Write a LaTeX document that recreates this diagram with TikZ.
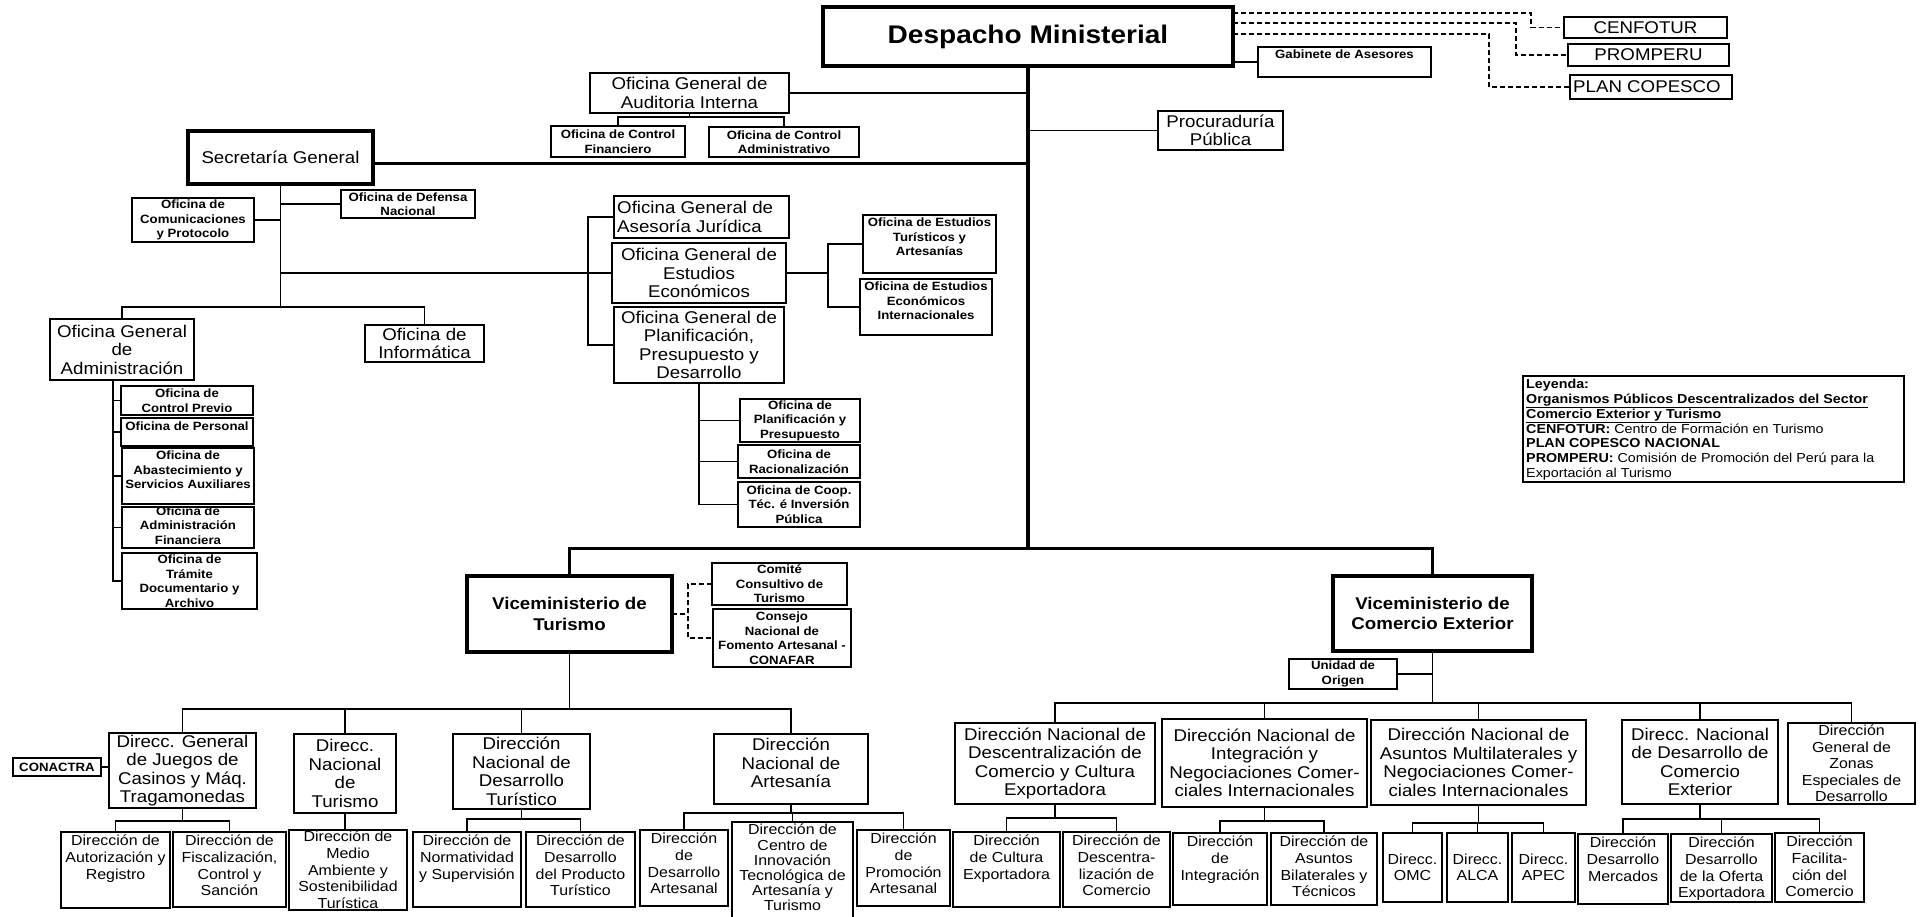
\documentclass[tikz,border=0pt]{standalone}
\usepackage{fontspec}
\setmainfont{Liberation Sans}[FakeStretch=1.1]

% box with centred text: [text options]{name}{box style}{x1}{y1}{x2}{y2}{text}
\newcommand{\ob}[8][]{%
  \node[#3, minimum width={#6-#4}, minimum height={#7-#5}] (#2) at ({(#4+#6)/2},{(#5+#7)/2}) {};
  \node[txt,#1] (#2-t) at (#2.center) {#8};}
% box with text hanging from the top edge
\newcommand{\obt}[8][]{%
  \node[#3, minimum width={#6-#4}, minimum height={#7-#5}] (#2) at ({(#4+#6)/2},{(#5+#7)/2}) {};
  \node[txt,anchor=north,#1] (#2-t) at ([yshift=-3pt]#2.north) {#8};}
% box with left-aligned text
\newcommand{\obl}[8][]{%
  \node[#3, minimum width={#6-#4}, minimum height={#7-#5}] (#2) at ({(#4+#6)/2},{(#5+#7)/2}) {};
  \node[txt,align=left,anchor=west,#1] (#2-t) at ([xshift=3pt]#2.west) {#8};}

\begin{document}
\begin{tikzpicture}[x=1pt,y=-1pt,line join=miter,
  box/.style={draw,line width=1.5pt,inner sep=0pt,outer sep=0pt},
  mbox/.style={draw,line width=2.2pt,inner sep=0pt,outer sep=0pt},
  bbox/.style={draw,line width=3.2pt,inner sep=0pt,outer sep=0pt},
  txt/.style={inner sep=0pt,align=center,fM},
  fT/.style={font=\fontsize{25.5}{28}\selectfont\bfseries},
  fV/.style={font=\fontsize{17}{20.5}\selectfont\bfseries},
  fM/.style={font=\fontsize{17}{18.5}\selectfont},
  fB/.style={font=\fontsize{14.5}{16.6}\selectfont},
  fS/.style={font=\fontsize{12}{14.5}\selectfont\bfseries},
  ln/.style={line width=1.6pt},
  thk/.style={line width=3pt},
  trunk/.style={line width=4pt},
  dsh/.style={line width=1.5pt,dash pattern=on 5pt off 3pt}]

\useasboundingbox[fill=white] (0,0) rectangle (1922,916);

% ---------- top level ----------
\ob[fT]{desp}{bbox}{823}{7}{1233}{66}{Despacho Ministerial}
\ob{cen}{box}{1564}{17}{1727}{38}{CENFOTUR}
\ob{pro}{box}{1568}{44}{1729}{66}{PROMPERU}
\obl{plan}{box}{1570}{75}{1732}{99}{PLAN COPESCO}
\obt[fS]{gab}{box}{1258}{47}{1431}{77}{Gabinete de Asesores}
\ob{aud}{box}{590}{73}{789}{113}{Oficina General de\\Auditoria Interna}
\ob[fS]{cf}{box}{551}{126}{685}{157}{Oficina de Control\\Financiero}
\ob[fS]{ca}{box}{709}{127}{859}{157}{Oficina de Control\\Administrativo}
\ob{proc}{box}{1158}{111}{1283}{150}{Procuraduría\\Pública}

% ---------- Secretaría General ----------
\ob{sg}{bbox}{188}{131}{373}{184}{Secretaría General}
\ob[fS]{com}{box}{132}{198}{254}{242}{Oficina de\\Comunicaciones\\y Protocolo}
\ob[fS]{def}{box}{341}{190}{475}{218}{Oficina de Defensa\\Nacional}
\obl{aj}{box}{614}{196}{789}{238}{Oficina General de\\Asesoría Jurídica}
\ob{eco}{mbox}{612}{243}{786}{303}{Oficina General de\\Estudios\\Económicos}
\obt[fS]{tur}{box}{863}{215}{996}{273}{Oficina de Estudios\\Turísticos y\\Artesanías}
\obt[fS]{eei}{box}{860}{279}{992}{335}{Oficina de Estudios\\Económicos\\Internacionales}
\ob{ofa}{box}{50}{319}{194}{380}{Oficina General\\de\\Administración}
\ob{inf}{box}{365}{325}{484}{362}{Oficina de\\Informática}
\ob{ppd}{box}{614}{307}{784}{383}{Oficina General de\\Planificación,\\Presupuesto y\\Desarrollo}
\ob[fS]{cp}{box}{121}{386}{253}{415}{Oficina de\\Control Previo}
\obt[fS,yshift=-1pt]{per}{box}{121}{418}{253}{446}{Oficina de Personal}
\obt[fS]{aba}{box}{122}{448}{254}{504}{Oficina de\\Abastecimiento y\\Servicios Auxiliares}
\ob[fS,yshift=2pt]{adf}{box}{122}{507}{254}{548}{Oficina de\\Administración\\Financiera}
\ob[fS]{tra}{box}{122}{553}{257}{609}{Oficina de\\Trámite\\Documentario y\\Archivo}
\ob[fS]{pyp}{box}{740}{399}{860}{442}{Oficina de\\Planificación y\\Presupuesto}
\ob[fS]{rac}{box}{738}{445}{860}{478}{Oficina de\\Racionalización}
\ob[fS]{coop}{box}{738}{482}{860}{527}{Oficina de Coop.\\Téc. é Inversión\\Pública}

% ---------- viceministerios ----------
\ob[fV]{vmt}{bbox}{467}{576}{672}{652}{Viceministerio de\\Turismo}
\ob[fS]{cct}{box}{712}{563}{847}{605}{Comité\\Consultivo de\\Turismo}
\ob[fS]{conaf}{box}{713}{609}{851}{667}{Consejo\\Nacional de\\Fomento Artesanal -\\CONAFAR}
\ob[fV]{vmc}{bbox}{1333}{576}{1532}{651}{Viceministerio de\\Comercio Exterior}
\ob[fS]{uo}{box}{1289}{659}{1397}{689}{Unidad de\\Origen}

% ---------- legend ----------
\node[box,minimum width=381,minimum height=106] (leg) at (1713.5,429) {};
\node[anchor=north west,inner sep=0pt,align=left,font=\fontsize{13}{14.8}\selectfont]
  (leg-t) at ([xshift=3pt,yshift=-3pt]leg.north west)
  {\textbf{Leyenda:}\\
   \textbf{\underline{Organismos Públicos Descentralizados del Sector}}\\
   \textbf{\underline{Comercio Exterior y Turismo}}\\
   \textbf{CENFOTUR:} Centro de Formación en Turismo\\
   \textbf{PLAN COPESCO NACIONAL}\\
   \textbf{PROMPERU:} Comisión de Promoción del Perú para la\\
   Exportación al Turismo};

% ---------- Turismo branch ----------
\ob[fS]{cona}{box}{13}{758}{101}{776}{CONACTRA}
\ob{jue}{box}{109}{733}{256}{808}{Direcc. General\\de Juegos de\\Casinos y Máq.\\Tragamonedas}
\ob{dnt}{box}{294}{734}{396}{813}{Direcc.\\Nacional\\de\\Turismo}
\ob{ddt}{box}{453}{734}{590}{809}{Dirección\\Nacional de\\Desarrollo\\Turístico}
\obt[yshift=-1pt]{dna}{box}{714}{734}{868}{804}{Dirección\\Nacional de\\Artesanía}
\obt[fB]{ar}{box}{61}{832}{170}{908}{Dirección de\\Autorización y\\Registro}
\obt[fB]{fis}{box}{173}{832}{286}{907}{Dirección de\\Fiscalización,\\Control y\\Sanción}
\obt[fB,yshift=2pt]{ma}{box}{289}{830}{407}{910}{Dirección de\\Medio\\Ambiente y\\Sostenibilidad\\Turística}
\obt[fB]{nor}{box}{413}{832}{521}{907}{Dirección de\\Normatividad\\y Supervisión}
\obt[fB]{dpt}{box}{526}{832}{635}{907}{Dirección de\\Desarrollo\\del Producto\\Turístico}
\obt[fB]{dda}{box}{640}{830}{728}{906}{Dirección\\de\\Desarrollo\\Artesanal}
\obt[font=\fontsize{14.5}{15.2}\selectfont,yshift=1pt]{cit}{box}{732}{822}{853}{918}{Dirección de\\Centro de\\Innovación\\Tecnológica de\\Artesanía y\\Turismo}
\obt[fB]{dpa}{box}{857}{830}{950}{906}{Dirección\\de\\Promoción\\Artesanal}

% ---------- Comercio Exterior branch ----------
\ob{des}{box}{955}{723}{1155}{804}{Dirección Nacional de\\Descentralización de\\Comercio y Cultura\\Exportadora}
\ob{int}{box}{1162}{719}{1367}{807}{Dirección Nacional de\\Integración y\\Negociaciones Comer-\\ciales Internacionales}
\ob{mul}{box}{1371}{720}{1586}{805}{Dirección Nacional de\\Asuntos Multilaterales y\\Negociaciones Comer-\\ciales Internacionales}
\ob{dce}{box}{1622}{720}{1778}{804}{Direcc. Nacional\\de Desarrollo de\\Comercio\\Exterior}
\ob[fB]{zon}{box}{1788}{723}{1915}{804}{Dirección\\General de\\Zonas\\Especiales de\\Desarrollo}
\obt[fB]{cex}{box}{953}{832}{1060}{907}{Dirección\\de Cultura\\Exportadora}
\obt[fB]{dco}{box}{1063}{832}{1170}{907}{Dirección de\\Descentra-\\lización de\\Comercio}
\obt[fB]{dint}{box}{1173}{833}{1267}{905}{Dirección\\de\\Integración}
\obt[fB]{abt}{box}{1271}{833}{1377}{905}{Dirección de\\Asuntos\\Bilaterales y\\Técnicos}
\ob[fB]{omc}{box}{1383}{833}{1442}{902}{Direcc.\\OMC}
\ob[fB]{alca}{box}{1447}{833}{1508}{902}{Direcc.\\ALCA}
\ob[fB]{apec}{box}{1512}{833}{1575}{902}{Direcc.\\APEC}
\obt[fB]{mer}{box}{1578}{834}{1668}{904}{Dirección\\Desarrollo\\Mercados}
\obt[fB]{ofe}{box}{1671}{834}{1772}{902}{Dirección\\Desarrollo\\de la Oferta\\Exportadora}
\obt[fB]{fac}{box}{1775}{833}{1864}{902}{Dirección\\Facilita-\\ción del\\Comercio}

% ---------- connectors: top level ----------
\path (desp.south) ++(0,482) coordinate (vbar);
\draw[trunk] (desp.south) -- (vbar);
\draw[thk] (vmt.north) |- (vbar) -| (vmc.north);
\draw[thk] ([yshift=-5.5pt]sg.east) -- ([yshift=-5.5pt]sg.east -| desp.south);
\draw[ln] (aud.east) -- (aud.east -| desp.south);
\draw[ln] (desp.south |- proc.west) -- (proc.west);
\draw[ln] (desp.east |- gab.west) -- (gab.west);
\draw[dsh] ([yshift=-6pt]desp.north east) -| ([xshift=-33pt]cen.west) -- (cen.west);
\draw[dsh] ([yshift=-16pt]desp.north east) -| ([xshift=-52pt]pro.west) -- (pro.west);
\draw[dsh] ([yshift=-27pt]desp.north east) -| ([xshift=-81pt]plan.west) -- (plan.west);

\path (aud.south) ++(0,4) coordinate (audb);
\draw[ln] (aud.south) -- (audb);
\draw[ln] (cf.north) |- (audb) -| (ca.north);

% Secretaría General
\path (ofa.north) ++(0,-12) coordinate (sgb);
\draw[ln] (sg.south) -- (sg.south |- sgb);
\draw[ln] (ofa.north) -- (sgb) -| (inf.north);
\draw[ln] (com.east) -- (com.east -| sg.south);
\draw[ln] (def.west) -- (def.west -| sg.south);
\draw[ln] (sg.south |- eco.west) -- (eco.west);
\draw[ln] (aj.west) -- ++(-26,0) |- (ppd.west);
\path ([xshift=-35pt]tur.west) coordinate (ebr);
\draw[ln] (eco.east) -- (eco.east -| ebr);
\draw[ln] (tur.west) -- (ebr) |- (eei.west);

\path ([xshift=-9pt]ofa.south) coordinate (oab);
\draw[ln] (oab) |- (tra.west);
\foreach \n in {cp,per,aba,adf} \draw[ln] (oab |- \n.west) -- (\n.west);

\draw[ln] (ppd.south) |- (coop.west);
\foreach \n in {pyp,rac} \draw[ln] (ppd.south |- \n.west) -- (\n.west);

% Viceministerio de Turismo
\path ([xshift=-24pt]cct.west) coordinate (cbr);
\draw[dsh] (vmt.east) -- (vmt.east -| cbr);
\draw[dsh] (cct.west) -- (cbr) |- (conaf.west);

\path (vmt.south) ++(0,57) coordinate (tb);
\draw[ln] (vmt.south) -- (tb);
\draw[ln] (jue.north) |- (tb) -| (dna.north);
\draw[ln] (dnt.north) -- (dnt.north |- tb);
\draw[ln] (ddt.north) -- (ddt.north |- tb);
\draw[ln] (cona.east) -- (cona.east -| jue.west);

\path (jue.south) ++(0,13) coordinate (jb);
\draw[ln] (jue.south) -- (jb);
\draw[ln] (ar.north) |- (jb) -| (fis.north);
\draw[ln] (dnt.south) -- (dnt.south |- ma.north);
\path (ddt.south) ++(0,10) coordinate (db);
\draw[ln] (ddt.south) -- (db);
\draw[ln] (nor.north) |- (db) -| (dpt.north);
\path (dna.south) ++(0,9) coordinate (ab);
\draw[ln] (dna.south) -- (ab);
\draw[ln] (dda.north) |- (ab) -| (dpa.north);
\draw[ln] (cit.north) -- (cit.north |- ab);

% Viceministerio de Comercio Exterior
\path (vmc.south) ++(0,52) coordinate (cb);
\draw[ln] (vmc.south) -- (cb);
\draw[ln] (uo.east) -- (uo.east -| vmc.south);
\draw[ln] (des.north) |- (cb) -| (zon.north);
\foreach \n in {int,mul,dce} \draw[ln] (\n.north) -- (\n.north |- cb);

\path (des.south) ++(0,14) coordinate (deb);
\draw[ln] (des.south) -- (deb);
\draw[ln] (cex.north) |- (deb) -| (dco.north);
\path (int.south) ++(0,14) coordinate (ib);
\draw[ln] (int.south) -- (ib);
\draw[ln] (dint.north) |- (ib) -| (abt.north);
\path (mul.south) ++(0,18) coordinate (mb);
\draw[ln] (mul.south) -- (mb);
\draw[ln] (omc.north) |- (mb) -| (apec.north);
\draw[ln] (alca.north) -- (alca.north |- mb);
\path (dce.south) ++(0,15) coordinate (xb);
\draw[ln] (dce.south) -- (xb);
\draw[ln] (mer.north) |- (xb) -| (fac.north);
\draw[ln] (ofe.north) -- (ofe.north |- xb);

\end{tikzpicture}
\end{document}
